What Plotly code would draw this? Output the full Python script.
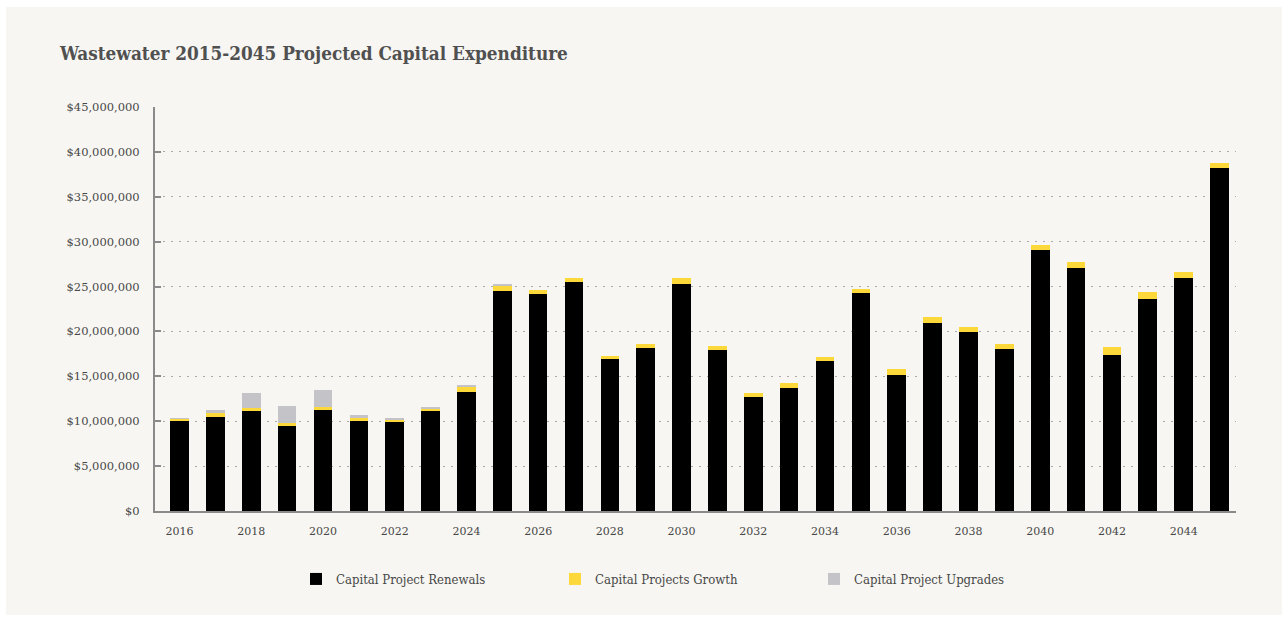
import plotly.graph_objects as go

# Projected wastewater capital expenditure by year (dollars)
years = list(range(2016, 2046))

renewals = [
    10050000, 10500000, 11100000, 9500000, 11300000, 10050000, 9880000, 11100000,
    13300000, 24470000, 24160000, 25500000, 16900000, 18200000, 25300000, 17900000,
    12660000, 13700000, 16700000, 24300000, 15140000, 20970000, 19900000, 18000000,
    29060000, 27100000, 17400000, 23570000, 26000000, 38160000,
]
growth = [
    250000, 400000, 400000, 330000, 260000, 380000, 260000, 370000,
    560000, 600000, 450000, 410000, 400000, 370000, 670000, 450000,
    450000, 590000, 480000, 450000, 630000, 590000, 630000, 590000,
    590000, 630000, 820000, 820000, 630000, 630000,
]
upgrades = [
    50000, 300000, 1600000, 1900000, 1900000, 220000, 110000, 150000,
    100000, 200000, 0, 0, 0, 0, 0, 0,
    0, 0, 0, 0, 0, 0, 0, 0,
    0, 0, 0, 0, 0, 0,
]

year_ticks = list(range(2016, 2046, 2))
money_ticks = list(range(0, 45000001, 5000000))

series = [
    ("Capital Project Renewals", renewals, "#000000"),
    ("Capital Projects Growth", growth, "#fcd83a"),
    ("Capital Project Upgrades", upgrades, "#c4c3c8"),
]

TEXT = "#474747"
AXIS = "#8a8a8a"
SERIF = "DejaVu Serif, Liberation Serif, serif"
CONDENSED = "DejaVu Serif Condensed, Liberation Serif, serif"

fig = go.Figure()
for name, vals, color in series:
    fig.add_trace(go.Bar(
        x=years, y=vals, name=name, width=0.52,
        marker=dict(color=color, line=dict(width=0)),
    ))

# plot area spans pixels x 155..1236, y 107..511
L, R, T, B, W, H = 155, 1236, 107, 511, 1288, 621
pw, ph = R - L, B - T


def px(x):
    return (x - L) / pw


def py(y):
    return (B - y) / ph


fig.add_shape(type="rect", xref="paper", yref="paper",
              x0=px(6), x1=px(1282), y0=py(615), y1=py(7),
              fillcolor="#f7f6f2", line=dict(width=0), layer="below")

fig.update_layout(
    width=W, height=H,
    margin=dict(l=L, r=W - R, t=T, b=H - B, pad=0),
    paper_bgcolor="#ffffff",
    plot_bgcolor="rgba(0,0,0,0)",
    barmode="stack",
    bargap=0,
    font=dict(family=SERIF, color=TEXT, size=11),
    title=dict(
        text="<b>Wastewater 2015-2045 Projected Capital Expenditure</b>",
        xref="container", yref="container",
        x=60 / W, xanchor="left", y=1 - 53 / H, yanchor="middle",
        font=dict(family=CONDENSED, size=18.8, color="#505050"),
    ),
    showlegend=True,
    legend=dict(
        orientation="h", x=px(296), xanchor="left", y=py(579), yanchor="middle",
        entrywidth=214, entrywidthmode="pixels",
        font=dict(family=CONDENSED, size=13, color=TEXT),
        bgcolor="rgba(0,0,0,0)", traceorder="normal",
    ),
    xaxis=dict(
        range=[2015.316, 2045.46],
        tickvals=year_ticks, ticktext=[str(y) for y in year_ticks],
        showgrid=False, zeroline=False,
        showline=True, linecolor=AXIS, linewidth=2,
        ticks="", ticklabelstandoff=9,
        tickfont=dict(family=SERIF, size=11, color=TEXT),
    ),
    yaxis=dict(
        range=[0, 45000000],
        tickvals=money_ticks, tickformat="$,.0f",
        showgrid=True, gridcolor="#aaaaaa", gridwidth=1, griddash="2px,6px",
        zeroline=False,
        showline=True, linecolor=AXIS, linewidth=2,
        ticks="inside", ticklen=6, tickcolor=AXIS, tickwidth=2,
        ticklabelstandoff=11,
        tickfont=dict(family=SERIF, size=11.5, color=TEXT),
    ),
)

fig.write_html("out.html")
